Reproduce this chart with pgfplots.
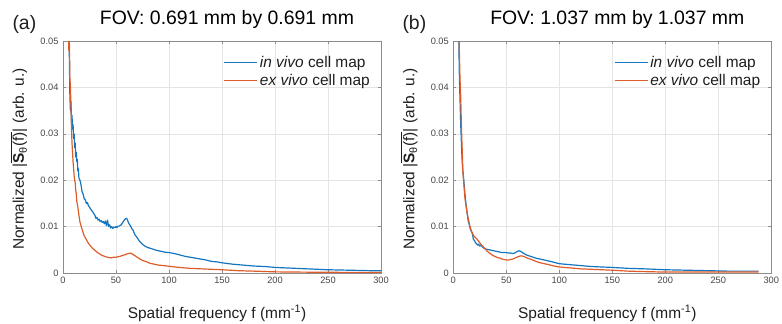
\documentclass[border=0pt]{standalone}
\usepackage{pgfplots}
\pgfplotsset{compat=1.18}
\usepackage{fontspec}
\setmainfont{Liberation Sans}
\definecolor{mblue}{RGB}{20,118,192}
\definecolor{morange}{RGB}{222,92,40}
\definecolor{tickc}{RGB}{70,70,70}
\definecolor{labc}{RGB}{30,30,30}
\definecolor{gridc}{RGB}{228,228,228}
\definecolor{axc}{RGB}{140,140,140}

\pgfplotstableread{
f v
4.5 0.08
5.5 0.055
6.5 0.038
7 0.035
7.5 0.037
8 0.033
8.5 0.034
9 0.031
9.5 0.032
10 0.029
10.5 0.030
11 0.027
11.5 0.028
12 0.025
12.5 0.026
13 0.024
13.5 0.0245
14 0.022
14.5 0.0225
15 0.0205
16 0.0200
17 0.0190
18 0.0175
19 0.0170
20 0.0160
21 0.0158
22 0.0150
23 0.0152
24 0.0145
25 0.0142
26 0.0138
27 0.0135
28 0.0132
29 0.0128
30 0.0125
31 0.0118
32 0.0120
33 0.0114
34 0.0116
35 0.0111
36 0.0113
37 0.0109
38 0.0111
39 0.0106
40 0.0112
41 0.0102
42 0.0114
43 0.0100
44 0.0104
45 0.0097
46 0.0100
47 0.0096
48 0.0099
49 0.0098
50 0.0100
51 0.0098
52 0.0101
53 0.0101
54 0.0103
55 0.0104
56 0.0108
57 0.0111
58 0.0115
59 0.0117
60 0.0118
61 0.0113
62 0.0107
63 0.0104
64 0.0100
65 0.0095
66 0.0093
67 0.0087
68 0.0082
70 0.0076
72 0.0069
74 0.0064
76 0.0060
78 0.0057
80 0.0055
84 0.0052
88 0.0049
92 0.0047
96 0.0045
100 0.0044
105 0.0042
110 0.0039
115 0.0036
120 0.0034
125 0.0032
130 0.0030
135 0.0028
140 0.0025
145 0.0024
150 0.0022
160 0.0019
170 0.0017
180 0.0015
190 0.0014
200 0.0012
210 0.0011
220 0.0010
230 0.0009
240 0.0008
250 0.0007
260 0.00065
270 0.0006
280 0.00055
290 0.0005
300 0.0005
}\invivoA

\pgfplotstableread{
f v
4 0.08
5 0.055
5.5 0.048
6 0.05
6.5 0.042
7 0.040
7.5 0.036
8 0.031
8.5 0.028
9 0.026
9.5 0.024
10 0.0225
10.5 0.021
11 0.020
11.5 0.0195
12 0.018
12.5 0.017
13 0.0155
14 0.0142
15 0.0125
16 0.0110
17 0.0102
18 0.0094
19 0.0087
20 0.0080
22 0.0072
24 0.0064
26 0.0058
28 0.0053
30 0.0049
32 0.0045
34 0.0042
36 0.0039
38 0.0037
40 0.0035
42 0.0034
44 0.0033
46 0.0033
48 0.0034
50 0.0034
52 0.0035
54 0.0036
56 0.0038
58 0.0039
60 0.0041
62 0.0042
64 0.0043
66 0.0040
68 0.0037
70 0.0034
72 0.0031
75 0.0027
78 0.0025
82 0.0021
86 0.0019
90 0.0017
95 0.0016
100 0.00145
110 0.0012
120 0.0010
130 0.0009
140 0.0008
150 0.0007
165 0.0005
180 0.0004
200 0.00025
220 0.0002
250 0.00015
300 0.0001
}\exvivoA

\pgfplotstableread{
f v
4.5 0.08
5.5 0.045
6 0.040
6.5 0.036
7 0.032
7.5 0.029
8 0.026
8.5 0.0235
9 0.022
9.5 0.021
10 0.0197
11 0.017
12 0.0148
13 0.013
14 0.0113
15 0.0105
16 0.0095
17 0.0090
18 0.0085
19 0.0072
20 0.0070
21 0.0065
22 0.0063
23 0.0060
24 0.0062
25 0.0058
26 0.0060
28 0.0055
30 0.0052
32 0.0051
34 0.0050
36 0.0049
38 0.0048
40 0.0047
42 0.0046
44 0.0045
46 0.0044
48 0.0044
50 0.0044
52 0.0043
54 0.0043
56 0.0042
58 0.0043
60 0.0046
62 0.0048
64 0.0046
66 0.0043
68 0.0040
70 0.0038
74 0.0035
78 0.0032
82 0.0030
86 0.0028
90 0.0026
95 0.0023
100 0.0020
110 0.0018
120 0.0016
130 0.0014
140 0.0013
150 0.0012
165 0.0010
180 0.0009
200 0.0007
220 0.0006
240 0.0005
260 0.0004
288 0.0004
}\invivoB

\pgfplotstableread{
f v
4.5 0.08
5.5 0.05
6 0.045
6.3 0.042
7 0.038
7.5 0.033
8 0.029
8.5 0.026
9 0.022
9.5 0.0204
10 0.019
11 0.0161
12 0.0145
13 0.013
14 0.0118
15 0.0108
16 0.0098
17 0.0091
18 0.0086
19 0.0081
20 0.0078
22 0.0074
24 0.0068
26 0.0062
28 0.0057
30 0.0052
32 0.0047
34 0.0043
36 0.0040
38 0.0037
40 0.0035
42 0.0033
44 0.0032
46 0.0030
48 0.0029
50 0.0028
52 0.0028
54 0.0029
56 0.0030
58 0.0032
60 0.0034
62 0.0036
64 0.0037
66 0.0036
68 0.0034
70 0.0032
74 0.0029
78 0.0025
82 0.0022
86 0.0020
90 0.0018
95 0.0015
100 0.0013
110 0.0011
120 0.0009
130 0.0008
140 0.0007
150 0.0006
165 0.0004
180 0.0003
200 0.0002
240 0.0002
288 0.0002
}\exvivoB

\pgfplotsset{
  myax/.style={
    anchor=south west,
    scale only axis,
    width=318bp, height=232bp,
    xmin=0, xmax=300, ymin=0, ymax=0.05,
    xtick={0,50,100,150,200,250,300},
    xticklabels={0,50,100,150,200,250,300},
    ytick={0,0.01,0.02,0.03,0.04,0.05},
    yticklabels={0,0.01,0.02,0.03,0.04,0.05},
    scaled y ticks=false,
    tick align=inside,
    major tick length=3bp,
    xtick pos=both, ytick pos=both,
    grid=major,
    major grid style={gridc, line width=0.5bp},
    axis line style={axc, line width=0.6bp},
    tick style={axc, line width=0.5bp},
    tick label style={font=\fontsize{9.3}{10}\selectfont, text=tickc},
    xticklabel style={yshift=-1bp},
    yticklabel style={xshift=-1bp},
    label style={font=\fontsize{15.5}{17}\selectfont, text=labc},
    xlabel={Spatial frequency f (mm\textsuperscript{-1})},
    xlabel style={at={(axis description cs:0.5,0)}, anchor=base, yshift=-45bp, xshift=-5bp},
    ylabel={Normalized |$\overline{\mbox{\textbf{S}\textsubscript{θ}(f)}}$| (arb. u.)},
    ylabel style={at={(axis description cs:0,0.5)}, anchor=center, yshift=44bp, xshift=-2bp},
    title style={font=\fontsize{19.5}{21}\selectfont, at={(axis description cs:0.5,1)}, anchor=base, yshift=11bp, xshift=5bp},
    legend style={draw=none, fill=none, at={(rel axis cs:1,1)}, anchor=north east,
      xshift=-8bp, yshift=-12bp, font=\fontsize{15.5}{17}\selectfont, text=labc,
      row sep=1bp, inner sep=1bp},
    legend cell align=left,
    legend image code/.code={\draw[##1] (0bp,0bp) -- (33bp,0bp);},
    every axis plot/.append style={line width=1.2bp, line join=round},
    clip=true,
  }
}

\begin{document}
\begin{tikzpicture}
\path[use as bounding box] (0bp,0bp) rectangle (782bp,324bp);
\begin{axis}[myax, at={(63bp,51bp)}, title={FOV: 0.691 mm by 0.691 mm}]
\addplot[mblue] table[x=f,y=v] {\invivoA};
\addlegendentry{\textit{in vivo} cell map}
\addplot[morange] table[x=f,y=v] {\exvivoA};
\addlegendentry{\textit{ex vivo} cell map}
\end{axis}
\begin{axis}[myax, at={(453.3bp,51bp)}, title={FOV: 1.037 mm by 1.037 mm}]
\addplot[mblue] table[x=f,y=v] {\invivoB};
\addlegendentry{\textit{in vivo} cell map}
\addplot[morange] table[x=f,y=v] {\exvivoB};
\addlegendentry{\textit{ex vivo} cell map}
\end{axis}
\node[anchor=base west, font=\fontsize{19.5}{21}\selectfont, text=labc] at (9bp,294bp) {(a)};
\node[anchor=base west, font=\fontsize{19.5}{21}\selectfont, text=labc] at (399bp,294bp) {(b)};
\end{tikzpicture}
\end{document}
